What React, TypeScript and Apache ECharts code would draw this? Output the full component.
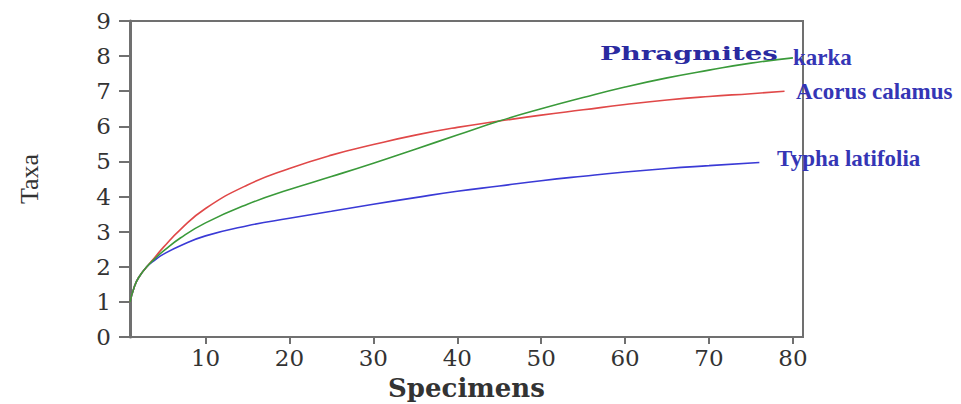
import React, { useEffect, useRef } from "react";
import * as echarts from "echarts";

const xTicks = [10, 20, 30, 40, 50, 60, 70, 80];
const yTicks = [0, 1, 2, 3, 4, 5, 6, 7, 8, 9];

const phragmitesX = [1, 1.5, 2, 3, 4, 5, 7, 10, 15, 20, 25, 30, 35, 40, 45, 50, 55, 60, 65, 70, 75, 80];
const phragmitesY = [1, 1.42, 1.68, 2.0, 2.24, 2.45, 2.82, 3.25, 3.78, 4.2, 4.57, 4.95, 5.35, 5.75, 6.15, 6.5, 6.82, 7.12, 7.38, 7.6, 7.8, 7.95];

const acorusX = [1, 1.5, 2, 3, 4, 5, 7, 10, 15, 20, 25, 30, 35, 40, 45, 50, 55, 60, 65, 70, 75, 79];
const acorusY = [1, 1.42, 1.68, 2.0, 2.28, 2.56, 3.06, 3.66, 4.33, 4.8, 5.18, 5.48, 5.75, 5.97, 6.15, 6.32, 6.47, 6.62, 6.75, 6.85, 6.93, 7.0];

const typhaX = [1, 1.5, 2, 3, 4, 5, 7, 10, 15, 20, 25, 30, 35, 40, 45, 50, 55, 60, 65, 70, 76];
const typhaY = [1, 1.42, 1.68, 2.0, 2.2, 2.36, 2.6, 2.88, 3.17, 3.38, 3.58, 3.78, 3.97, 4.15, 4.3, 4.45, 4.58, 4.7, 4.8, 4.88, 4.97];

const seriesNames = ["Phragmites karka", "Acorus calamus", "Typha latifolia"];
const seriesColors = ["#3a9a3a", "#e04848", "#3a3ad6"];

const pairs = (xs: number[], ys: number[]) => xs.map((x, i) => [x, ys[i]]);

export default function App() {
  const ref = useRef<HTMLDivElement>(null);
  useEffect(() => {
    if (!ref.current) return;
    const chart = echarts.init(ref.current, null, { renderer: "svg" });
    const axisGray = "#707070";
    const labelColor = "#333";
    const annColor = "#3535b5";
    chart.setOption({
      animation: false,
      backgroundColor: "#fff",
      grid: {
        left: 130,
        right: 158,
        top: 21,
        bottom: 67,
        show: true,
        borderColor: axisGray,
        borderWidth: 2,
        containLabel: false,
        outerBoundsMode: "none",
      },
      xAxis: {
        type: "value",
        min: 1,
        max: 81.2,
        name: "Specimens",
        nameLocation: "middle",
        nameGap: 38,
        nameTextStyle: {
          fontFamily: "DejaVu Serif",
          fontWeight: "bold",
          fontSize: 26,
          color: "#333",
        },
        axisLine: { show: true, lineStyle: { color: axisGray, width: 2 } },
        axisTick: {
          show: true,
          length: 7,
          customValues: xTicks,
          lineStyle: { color: axisGray, width: 2 },
        },
        axisLabel: {
          customValues: xTicks,
          margin: 9,
          fontFamily: "DejaVu Serif",
          fontSize: 23,
          color: labelColor,
        },
        splitLine: { show: false },
      },
      yAxis: {
        type: "value",
        min: 0,
        max: 9,
        interval: 1,
        name: "Taxa",
        nameLocation: "middle",
        nameGap: 88,
        nameRotate: 90,
        nameTextStyle: {
          fontFamily: "Liberation Serif",
          fontSize: 26,
          color: "#333",
        },
        axisLine: { show: true, lineStyle: { color: axisGray, width: 3 } },
        axisTick: { show: true, length: 11, lineStyle: { color: axisGray, width: 2 } },
        axisLabel: {
          margin: 19,
          fontFamily: "DejaVu Serif",
          fontSize: 23,
          color: labelColor,
          formatter: (v: number) => (yTicks.includes(v) ? String(v) : ""),
        },
        splitLine: { show: false },
      },
      series: [
        { xs: phragmitesX, ys: phragmitesY },
        { xs: acorusX, ys: acorusY },
        { xs: typhaX, ys: typhaY },
      ].map((s, i) => ({
        name: seriesNames[i],
        type: "line",
        smooth: true,
        showSymbol: false,
        symbol: "none",
        data: pairs(s.xs, s.ys),
        lineStyle: { color: seriesColors[i], width: 1.6 },
        z: 3 - i,
      })),
      graphic: [
        {
          type: "text",
          left: 600,
          top: 44,
          scaleX: 1.45,
          z: 10,
          style: {
            text: "Phragmites",
            fontFamily: "DejaVu Serif",
            fontWeight: "bold",
            fontSize: 19,
            fill: "#2a2aa0",
          },
        },
        {
          type: "text",
          left: 793,
          top: 46,
          z: 10,
          style: {
            text: "karka",
            fontFamily: "Liberation Serif",
            fontWeight: "bold",
            fontSize: 23,
            fill: annColor,
          },
        },
        {
          type: "text",
          left: 796,
          top: 80,
          z: 10,
          style: {
            text: "Acorus calamus",
            fontFamily: "Liberation Serif",
            fontWeight: "bold",
            fontSize: 23,
            fill: annColor,
          },
        },
        {
          type: "text",
          left: 777,
          top: 147,
          z: 10,
          style: {
            text: "Typha latifolia",
            fontFamily: "Liberation Serif",
            fontWeight: "bold",
            fontSize: 23,
            fill: annColor,
          },
        },
      ],
    });
    return () => chart.dispose();
  }, []);
  return (
    <div
      ref={ref}
      style={{ position: "fixed", left: 0, top: 0, width: 961, height: 404 }}
    />
  );
}
